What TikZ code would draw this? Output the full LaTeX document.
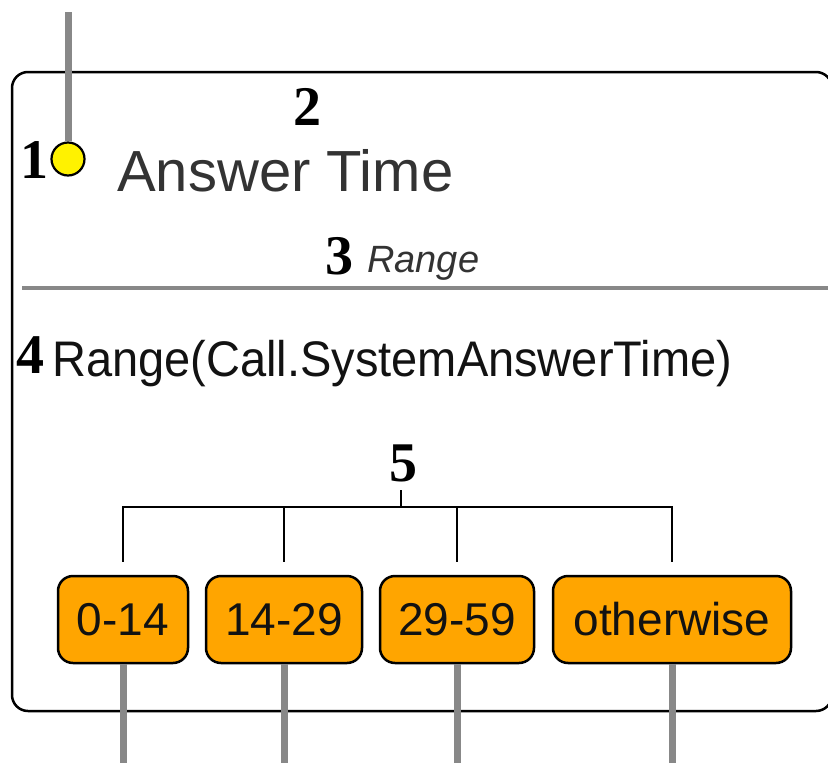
\documentclass[tikz,border=0pt]{standalone}
\usepackage{fontspec}
\setmainfont{Liberation Sans}
\newfontfamily\numfont{Liberation Serif}
\usetikzlibrary{calc}
\definecolor{wire}{HTML}{888888}
\definecolor{boxfill}{HTML}{FFA500}
\definecolor{titletext}{HTML}{333333}
\tikzset{
  frame/.style={draw=black, line width=2.5pt, rounded corners=16pt},
  wireline/.style={draw=wire, line width=7pt},
  sepline/.style={draw=wire, line width=3.5pt},
  bracket/.style={draw=black, line width=2.3pt},
  marker/.style={font=\numfont\bfseries\fontsize{56}{56}\selectfont, inner sep=0pt, anchor=base west},
  casebox/.style={draw=black, fill=boxfill, line width=2.5pt, rounded corners=15pt,
    minimum height=87pt, inner sep=0pt, text=black!93,
    font=\fontsize{46}{46}\selectfont},
  port/.style={circle, draw=black, fill=yellow, line width=2.2pt, minimum size=33pt, inner sep=0pt}
}
\begin{document}
\begin{tikzpicture}[x=1pt,y=-1pt]
\useasboundingbox (0,0) rectangle (828,763);

% outer frame of the block
\draw[frame] (12,72) rectangle (832,711);

% header
\node[port] (in) at (68,159) {};
\coordinate (intop) at (68,12);
\draw[wireline] (intop) -- (in.north);

\node[marker] (m1) at (20,178) {1};
\node[marker] (m2) at (293,125) {2};
\node[anchor=base west, inner sep=0pt, text=titletext, font=\fontsize{58}{58}\selectfont] (title) at (117,191) {Answer Time};

\node[marker] (m3) at (325,274) {3};
\node[anchor=base west, inner sep=0pt, text=titletext, font=\itshape\fontsize{38}{38}\selectfont] (kind) at (367,272) {Range};

\coordinate (sepL) at (22,288);
\coordinate (sepR) at (832,288);
\draw[sepline] (sepL) -- (sepR);

% expression
\node[marker] (m4) at (16,373) {4};
\node[anchor=base west, inner sep=0pt, text=black!93, font=\fontsize{50}{50}\selectfont] (expr) at (52,376) {\scalebox{0.94}[1]{Range(Call.SystemAnswerTime)}};

% cases
\node[marker] (m5) at (389,481) {5};
\node[casebox, minimum width=130pt] (b1) at (123,619.5) {0-14};
\node[casebox, minimum width=156pt] (b2) at (284,619.5) {14-29};
\node[casebox, minimum width=154pt] (b3) at (457,619.5) {29-59};
\node[casebox, minimum width=238pt] (b4) at (672,619.5) {otherwise};

\coordinate (stubtop) at (401,490);
\coordinate (bar) at (401,507);
\draw[bracket] (stubtop) -- (bar);
\draw[bracket] ($(b1.north)+(0,-13)$) -- (b1.north |- bar) -- (b4.north |- bar) -- ($(b4.north)+(0,-13)$);
\draw[bracket] (b2.north |- bar) -- ($(b2.north)+(0,-13)$);
\draw[bracket] (b3.north |- bar) -- ($(b3.north)+(0,-13)$);

% outgoing wires
\coordinate (bottom) at (0,763);
\foreach \b in {b1,b2,b3,b4}{
  \draw[wireline] (\b.south) -- (\b.south |- bottom);
}
\end{tikzpicture}
\end{document}
